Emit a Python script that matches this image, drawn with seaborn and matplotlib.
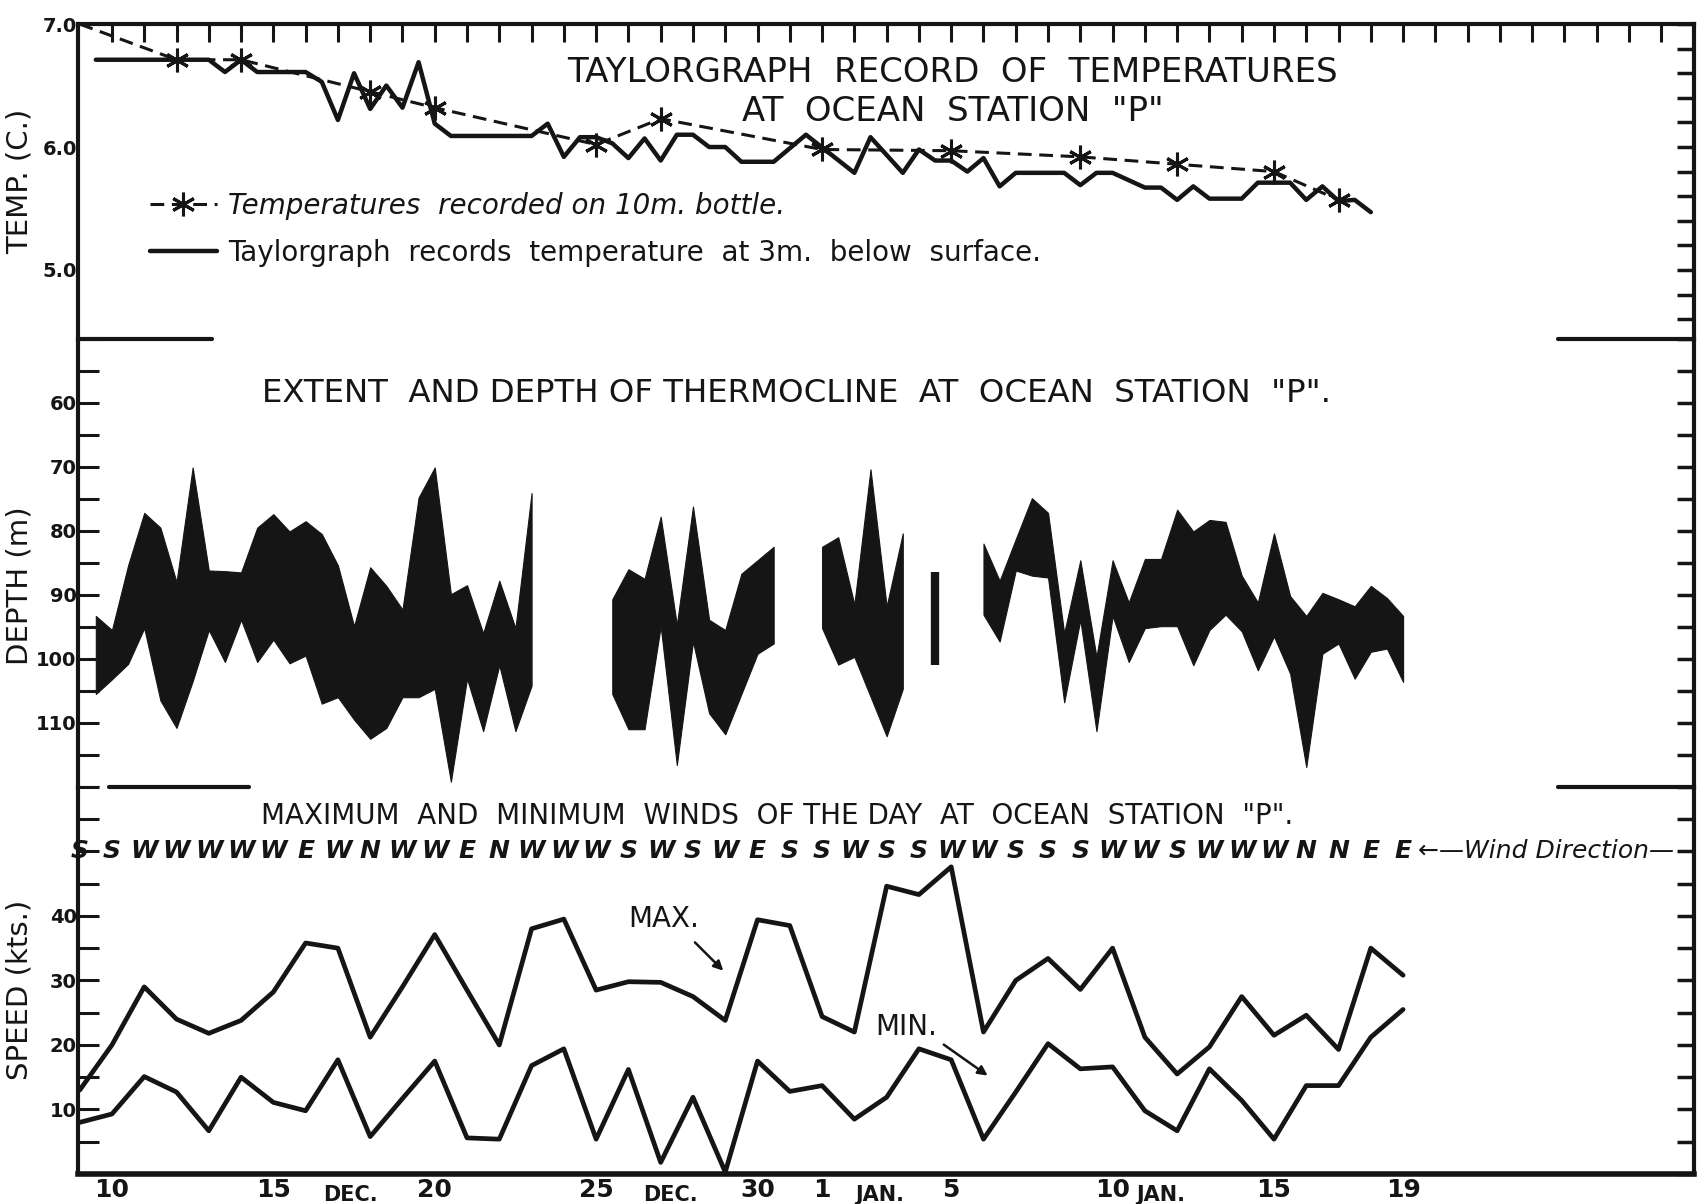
import numpy as np
import matplotlib.pyplot as plt
import seaborn as sns
from matplotlib.ticker import FixedLocator, MultipleLocator, FormatStrFormatter

# Ocean Station "P" record, Dec 9 - Jan 19, three stacked panels on one day axis
# (day numbers run on past Dec 31: 32 = Jan 1, 50 = Jan 19)

sns.set_style("white")
plt.rcParams['font.family'] = ['DejaVu Sans']

INK = "#151515"

# ---- Taylorgraph temperature at 3 m (deg C) ----
taylor_days = [9.5, 13.0, 13.5, 14.0, 14.5, 16.0, 16.5, 17.0, 17.5, 18.0, 18.5, 19.0,
               19.5, 20.0, 20.5, 23.0, 23.5, 24.0, 24.5, 25.0, 25.5, 26.0, 26.5, 27.0,
               27.5, 28.0, 28.5, 29.0, 29.5, 30.5, 31.5, 33.0, 33.5, 34.5, 35.0, 35.5,
               36.0, 36.5, 37.0, 37.5, 38.0, 39.5, 40.0, 40.5, 41.0, 42.0, 42.5, 43.0,
               43.5, 44.0, 45.0, 45.5, 46.5, 47.0, 47.5, 48.0, 48.5, 49.0]
taylor_temp = [6.71, 6.71, 6.61, 6.71, 6.61, 6.61, 6.53, 6.22, 6.60, 6.31, 6.50, 6.32,
               6.69, 6.19, 6.09, 6.09, 6.19, 5.92, 6.08, 6.08, 6.03, 5.91, 6.07, 5.89,
               6.10, 6.10, 6.00, 6.00, 5.88, 5.88, 6.10, 5.79, 6.08, 5.79, 5.98, 5.89,
               5.89, 5.80, 5.91, 5.68, 5.79, 5.79, 5.69, 5.79, 5.79, 5.67, 5.67, 5.57,
               5.68, 5.58, 5.58, 5.71, 5.71, 5.57, 5.68, 5.56, 5.57, 5.47]

# ---- 10 m bottle temperatures (deg C) ----
bottle_days = [9.0, 12.0, 14.0, 18.0, 20.0, 25.0, 27.0, 32.0, 36.0, 40.0, 43.0, 46.0, 48.0]
bottle_temp = [7.00, 6.71, 6.71, 6.45, 6.32, 6.02, 6.23, 5.98, 5.97, 5.92, 5.86, 5.80, 5.57]

# ---- thermocline top / bottom depth (m), twice-daily, one list per unbroken run ----
thermo_days = [
    [9.5, 10.0, 10.5, 11.0, 11.5, 12.0, 12.5, 13.0, 13.5, 14.0, 14.5, 15.0, 15.5, 16.0,
     16.5, 17.0, 17.5, 18.0, 18.5, 19.0, 19.5, 20.0, 20.5, 21.0, 21.5, 22.0, 22.5, 23.0],
    [25.5, 26.0, 26.5, 27.0, 27.5, 28.0, 28.5, 29.0, 29.5, 30.0, 30.5],
    [32.0, 32.5, 33.0, 33.5, 34.0, 34.5],
    [37.0, 37.5, 38.0, 38.5, 39.0, 39.5, 40.0, 40.5, 41.0, 41.5, 42.0, 42.5, 43.0, 43.5,
     44.0, 44.5, 45.0, 45.5, 46.0, 46.5, 47.0, 47.5, 48.0, 48.5, 49.0, 49.5, 50.0],
]
thermo_top = [
    [93.3, 95.5, 85.4, 77.2, 79.5, 88.0, 70.1, 86.2, 86.3, 86.5, 79.5, 77.4, 80.1, 78.5,
     80.5, 85.4, 94.9, 85.7, 88.6, 92.3, 74.8, 70.1, 89.9, 88.5, 96.0, 87.8, 95.2, 74.1],
    [90.7, 86.0, 87.5, 77.8, 94.7, 76.2, 93.9, 95.5, 86.7, 84.6, 82.5],
    [82.5, 81.0, 91.5, 70.4, 91.8, 80.4],
    [82.0, 87.8, 81.3, 74.9, 77.2, 96.0, 84.6, 99.7, 84.6, 91.2, 84.4, 84.4, 76.7, 80.1,
     78.3, 78.6, 87.0, 91.2, 80.4, 90.2, 93.3, 89.7, 90.7, 91.8, 88.6, 90.5, 93.3],
]
thermo_bot = [
    [105.5, 103.2, 100.8, 95.2, 106.5, 110.8, 103.5, 95.5, 100.5, 93.9, 100.5, 97.0, 100.7, 99.5,
     107.0, 106.0, 109.5, 112.5, 110.8, 106.0, 106.0, 104.7, 119.2, 103.1, 111.3, 101.0, 111.3, 104.2],
    [105.5, 111.0, 111.0, 94.9, 116.6, 97.3, 108.5, 111.8, 105.5, 99.2, 97.6],
    [95.2, 100.9, 99.7, 105.9, 112.1, 104.7],
    [93.1, 97.3, 86.2, 87.0, 87.3, 106.8, 93.9, 111.3, 93.3, 100.5, 95.2, 94.9, 94.9, 101.0,
     95.5, 93.1, 95.7, 101.8, 96.5, 102.3, 116.9, 99.2, 97.6, 103.1, 98.9, 98.4, 103.6],
]
# single reading (Jan 4)
single_day = 35.5
single_top = 86.5
single_bot = 101.0

# ---- daily max / min wind speed (kts) and wind direction ----
wind_days = list(range(9, 51))
wind_max = [13, 20, 29, 24, 21.8, 23.8, 28.2, 35.8, 35, 21.2, 29, 37.1, 28.5, 20,
            38, 39.5, 28.5, 29.8, 29.7, 27.5, 23.8, 39.4, 38.5, 24.4, 22, 44.6, 43.3, 47.6,
            22, 30, 33.4, 28.6, 35, 21.2, 15.5, 19.7, 27.5, 21.5, 24.6, 19.3, 35, 30.8]
wind_min = [8, 9.3, 15.1, 12.7, 6.7, 15, 11.1, 9.8, 17.7, 5.8, 11.7, 17.5, 5.6, 5.4,
            16.8, 19.4, 5.4, 16.2, 1.8, 11.9, 0.3, 17.5, 12.8, 13.7, 8.5, 11.9, 19.4, 17.7,
            5.4, 12.7, 20.2, 16.3, 16.6, 9.8, 6.7, 16.3, 11.4, 5.4, 13.7, 13.7, 21.2, 25.5]
wind_dir = list("SSWWWWWEWNWWENWWWSWSWESSWSSWWSSSWWSWWWNNEE")

# ---- axis labelling ----
tick_days = list(range(10, 51))
day_labels = {10: "10", 15: "15", 20: "20", 25: "25", 30: "30",
              32: "1", 36: "5", 41: "10", 46: "15", 50: "19"}
month_pos = [17.4, 27.3, 33.8, 42.5]
month_txt = ["DEC.", "DEC.", "JAN.", "JAN."]

fig = plt.figure(figsize=(16.97, 12.04), dpi=100)
L, R = 0.046, 0.998
ax_t = fig.add_axes([L, 0.7186, R - L, 0.980 - 0.7186])
ax_d = fig.add_axes([L, 0.3465, R - L, 0.7186 - 0.3465])
ax_w = fig.add_axes([L, 0.0249, R - L, 0.3465 - 0.0249])

bold = dict(fontweight="bold", color=INK)

for ax in (ax_t, ax_d, ax_w):
    ax.set_xlim(8.95, 59.0)
    ax.set_facecolor("white")
    for s in ax.spines.values():
        s.set_color(INK)
        s.set_linewidth(3)
    ax.spines["right"].set_visible(False)
    ax.tick_params(axis="y", which="major", direction="in", length=22, width=2.5,
                   labelsize=14, pad=1, colors=INK)
    ax.tick_params(axis="y", which="minor", direction="in", length=9, width=1.8, colors=INK)

# ---------------- temperature panel ----------------
sns.lineplot(x=taylor_days, y=taylor_temp, ax=ax_t, color=INK, lw=3.2,
             label="Taylorgraph  records  temperature  at 3m.  below  surface.")
sns.lineplot(x=bottle_days, y=bottle_temp, ax=ax_t, color=INK, lw=2.2,
             linestyle=(0, (4.5, 2.5)), marker=(6, 2, 0), markersize=17,
             markeredgewidth=2.2, markeredgecolor=INK, markerfacecolor=INK,
             markevery=list(range(1, len(bottle_days))),
             label="Temperatures  recorded on 10m. bottle.")
ax_t.set_ylim(4.44, 7.0)
ax_t.spines["bottom"].set_visible(False)
ax_t.yaxis.set_major_locator(FixedLocator([5.0, 6.0, 7.0]))
ax_t.yaxis.set_major_formatter(FormatStrFormatter("%.1f"))
ax_t.yaxis.set_minor_locator(MultipleLocator(0.1))
ax_t.set_xticks(list(range(10, 59)))
ax_t.tick_params(axis="x", which="major", top=True, bottom=False, labelbottom=False,
                 direction="in", length=13, width=2.2, colors=INK)
ax_t.text(36.05, 6.61, "TAYLORGRAPH  RECORD  OF  TEMPERATURES", ha="center", va="center",
          fontsize=24.5, color=INK)
ax_t.text(36.05, 6.29, 'AT  OCEAN  STATION  "P"', ha="center", va="center",
          fontsize=24.5, color=INK)
h = ax_t.get_lines()
leg = ax_t.legend(handles=[h[1], h[0]], labels=[h[1].get_label(), h[0].get_label()],
                  loc="upper left", bbox_to_anchor=(10.4, 5.84),
                  bbox_transform=ax_t.transData, frameon=False, fontsize=20,
                  handlelength=2.4, handletextpad=0.4, labelspacing=0.7, numpoints=1)
leg.get_texts()[0].set_fontstyle("italic")
for t in leg.get_texts():
    t.set_color(INK)

# ---------------- thermocline panel ----------------
for d, top, bot in zip(thermo_days, thermo_top, thermo_bot):
    ax_d.fill_between(d, top, bot, color=INK, lw=0.8)
ax_d.vlines(single_day, single_top, single_bot, color=INK, lw=6)
ax_d.set_ylim(120, 50)
ax_d.spines["top"].set_visible(False)
ax_d.spines["bottom"].set_visible(False)
ax_d.yaxis.set_major_locator(FixedLocator([60, 70, 80, 90, 100, 110]))
ax_d.yaxis.set_minor_locator(MultipleLocator(1))
ax_d.tick_params(axis="x", bottom=False, labelbottom=False)
ax_d.text(31.2, 58.6, 'EXTENT  AND DEPTH OF THERMOCLINE  AT  OCEAN  STATION  "P".',
          ha="center", va="center", fontsize=23.3, color=INK)

# ---------------- wind panel ----------------
sns.lineplot(x=wind_days, y=wind_max, ax=ax_w, color=INK, lw=3.4)
sns.lineplot(x=wind_days, y=wind_min, ax=ax_w, color=INK, lw=3.4)
ax_w.set_ylim(0, 60)
ax_w.spines["top"].set_visible(False)
ax_w.spines["bottom"].set_linewidth(4)
ax_w.yaxis.set_major_locator(FixedLocator([10, 20, 30, 40]))
ax_w.yaxis.set_minor_locator(MultipleLocator(1))
ax_w.set_xticks(tick_days)
ax_w.set_xticklabels([day_labels.get(d, "") for d in tick_days])
ax_w.tick_params(axis="x", direction="in", length=13, width=2.2, labelsize=18, pad=3,
                 colors=INK)
for ax in (ax_t, ax_d, ax_w):
    for lab in ax.get_yticklabels() + ax.get_xticklabels():
        lab.set_fontweight("bold")
for x, m in zip(month_pos, month_txt):
    ax_w.text(x, -0.055, m, transform=ax_w.get_xaxis_transform(), ha="center",
              va="center", fontsize=15, **bold)
for d, s in zip(wind_days, wind_dir):
    ax_w.text(d, 50, s, ha="center", va="center", fontsize=18, fontstyle="italic", **bold)
ax_w.text(50.45, 50, "\u2190\u2014Wind Direction\u2014", ha="left", va="center",
          fontsize=18, fontstyle="italic", color=INK)
ax_w.text(30.6, 55.5, 'MAXIMUM  AND  MINIMUM  WINDS  OF THE DAY  AT  OCEAN  STATION  "P".',
          ha="center", va="center", fontsize=20, color=INK)
ax_w.text(27.1, 39.5, "MAX.", ha="center", va="center", fontsize=20, color=INK)
ax_w.annotate("", xy=(29.0, 31.2), xytext=(28.0, 36.2),
              arrowprops=dict(arrowstyle="-|>", lw=1.8, color=INK, mutation_scale=14))
ax_w.text(34.6, 22.8, "MIN.", ha="center", va="center", fontsize=20, color=INK)
ax_w.annotate("", xy=(37.2, 15.0), xytext=(35.7, 20.3),
              arrowprops=dict(arrowstyle="-|>", lw=1.8, color=INK, mutation_scale=14))

# medium ticks at every 5 on the left, ticks every 5 on the right edge
for ax, step_r, med in ((ax_t, 0.2, None), (ax_d, 5, 5), (ax_w, 5, 5)):
    sec = ax.secondary_yaxis("right")
    sec.yaxis.set_major_locator(MultipleLocator(step_r))
    sec.tick_params(direction="in", length=12, width=2.5, labelright=False, colors=INK)
    sec.spines["right"].set_linewidth(3)
    sec.spines["right"].set_color(INK)
    if med:
        sec_l = ax.secondary_yaxis("left")
        sec_l.yaxis.set_major_locator(MultipleLocator(med))
        sec_l.tick_params(direction="in", length=15, width=2.2, labelleft=False, colors=INK)
        sec_l.spines["left"].set_visible(False)

# short separator rules between the panels
ax_d.axhline(ax_d.get_ylim()[1], xmin=0.0, xmax=0.083, color=INK, lw=3, clip_on=False)
ax_d.axhline(ax_d.get_ylim()[1], xmin=0.916, xmax=1.0, color=INK, lw=3, clip_on=False)
ax_w.axhline(ax_w.get_ylim()[1], xmin=0.019, xmax=0.106, color=INK, lw=3, clip_on=False)
ax_w.axhline(ax_w.get_ylim()[1], xmin=0.916, xmax=1.0, color=INK, lw=3, clip_on=False)

ax_t.set_ylabel("TEMP. (C.)", fontsize=21, color=INK)
ax_d.set_ylabel("DEPTH (m)", fontsize=21, color=INK)
ax_w.set_ylabel("SPEED (kts.)", fontsize=21, color=INK)
ax_t.yaxis.set_label_coords(-0.0275, 0.50)
ax_d.yaxis.set_label_coords(-0.0275, 0.45)
ax_w.yaxis.set_label_coords(-0.0275, 0.475)
for ax in (ax_t, ax_d, ax_w):
    ax.set_xlabel("")

fig.savefig("out.png", dpi=100, facecolor="white")
